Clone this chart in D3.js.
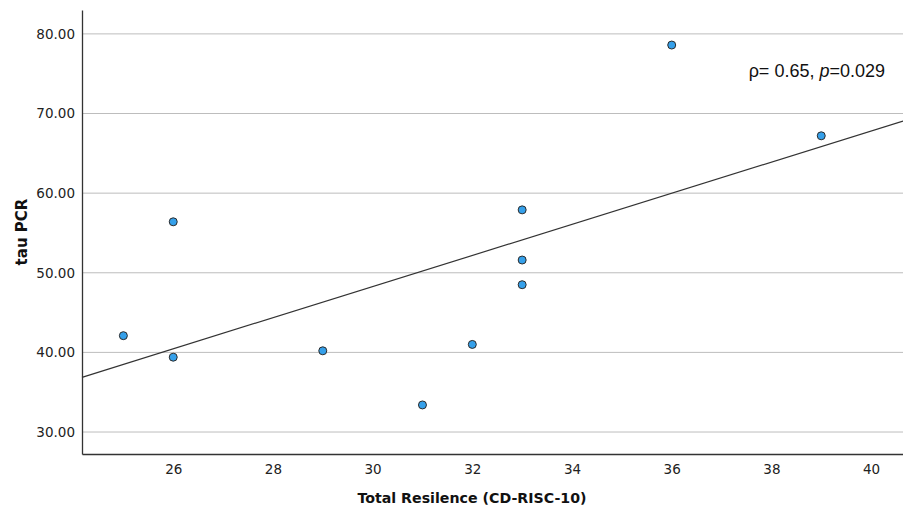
<!DOCTYPE html>
<html>
<head>
<meta charset="utf-8">
<script src="https://cdn.jsdelivr.net/npm/d3@7/dist/d3.min.js"></script>
<style>
  html, body { margin: 0; padding: 0; background: #fff; }
  svg { display: block; }
</style>
</head>
<body>
<svg id="chart" width="903" height="508"></svg>
<script>
// Data
const resilience = [25, 26, 26, 29, 31, 32, 33, 33, 33, 36, 39];
const tauPCR     = [42.1, 56.4, 39.4, 40.2, 33.4, 41.0, 57.9, 51.6, 48.5, 78.6, 67.2];
const xTicks = [26, 28, 30, 32, 34, 36, 38, 40];
const yTicks = [30, 40, 50, 60, 70, 80];
const xDomain = [24.17, 40.64];
const yDomain = [27.24, 83.0];
const annotation = { rho: "0.65", p: "0.029" };

(function () {
const svg = d3.select("#chart");
const mLeft = 82, mRight = 903, mTop = 10, mBottom = 454;

const x = d3.scaleLinear().domain(xDomain).range([mLeft, mRight]);
const y = d3.scaleLinear().domain(yDomain).range([mBottom, mTop]);

// gridlines
svg.append("g").selectAll("line").data(yTicks).join("line")
  .attr("x1", mLeft).attr("x2", mRight)
  .attr("y1", d => y(d)).attr("y2", d => y(d))
  .attr("stroke", "#bdbdbd").attr("stroke-width", 1);

// y axis
const yAxis = svg.append("g").attr("transform", `translate(${mLeft},0)`)
  .call(d3.axisLeft(y).tickValues(yTicks).tickFormat(d3.format(".2f")).tickSize(0).tickPadding(7));
yAxis.select(".domain").attr("stroke", "#333").attr("stroke-width", 1.3);
yAxis.selectAll("text").attr("font-family", "DejaVu Sans, sans-serif").attr("font-size", 13.5).attr("fill", "#222");

// x axis
const xAxis = svg.append("g").attr("transform", `translate(0,${mBottom})`)
  .call(d3.axisBottom(x).tickValues(xTicks).tickFormat(d3.format("d")).tickSize(0).tickPadding(10));
xAxis.select(".domain").attr("stroke", "#333").attr("stroke-width", 1.3);
xAxis.selectAll("text").attr("font-family", "DejaVu Sans, sans-serif").attr("font-size", 13.5).attr("fill", "#222");

// OLS fit line from data
const n = resilience.length;
const mx = d3.mean(resilience), my = d3.mean(tauPCR);
let sxy = 0, sxx = 0;
for (let i = 0; i < n; i++) {
  sxy += (resilience[i] - mx) * (tauPCR[i] - my);
  sxx += (resilience[i] - mx) ** 2;
}
const slope = sxy / sxx, intercept = my - slope * mx;
svg.append("line")
  .attr("x1", x(xDomain[0])).attr("y1", y(intercept + slope * xDomain[0]))
  .attr("x2", x(xDomain[1])).attr("y2", y(intercept + slope * xDomain[1]))
  .attr("stroke", "#333").attr("stroke-width", 1.2);

// points
svg.append("g").selectAll("circle").data(resilience.map((d, i) => [d, tauPCR[i]])).join("circle")
  .attr("cx", d => x(d[0])).attr("cy", d => y(d[1])).attr("r", 4)
  .attr("fill", "#35a0ea").attr("stroke", "#2b2b2b").attr("stroke-width", 1);

// axis titles
svg.append("text")
  .attr("x", 472).attr("y", 503).attr("text-anchor", "middle")
  .attr("font-family", "DejaVu Sans, sans-serif").attr("font-weight", "bold").attr("font-size", 14.2)
  .attr("fill", "#111").text("Total Resilence (CD-RISC-10)");

svg.append("text")
  .attr("transform", "translate(27,232) rotate(-90)").attr("text-anchor", "middle")
  .attr("font-family", "DejaVu Sans, sans-serif").attr("font-weight", "bold").attr("font-size", 15)
  .attr("fill", "#111").text("tau PCR");

// annotation
const ann = svg.append("text")
  .attr("x", 885).attr("y", 77).attr("text-anchor", "end")
  .attr("font-family", "Liberation Sans, Arial, sans-serif").attr("font-size", 18).attr("fill", "#111");
ann.append("tspan").text("\u03C1= " + annotation.rho + ", ");
ann.append("tspan").attr("font-style", "italic").text("p");
ann.append("tspan").text("=" + annotation.p);
})();
</script>
</body>
</html>
